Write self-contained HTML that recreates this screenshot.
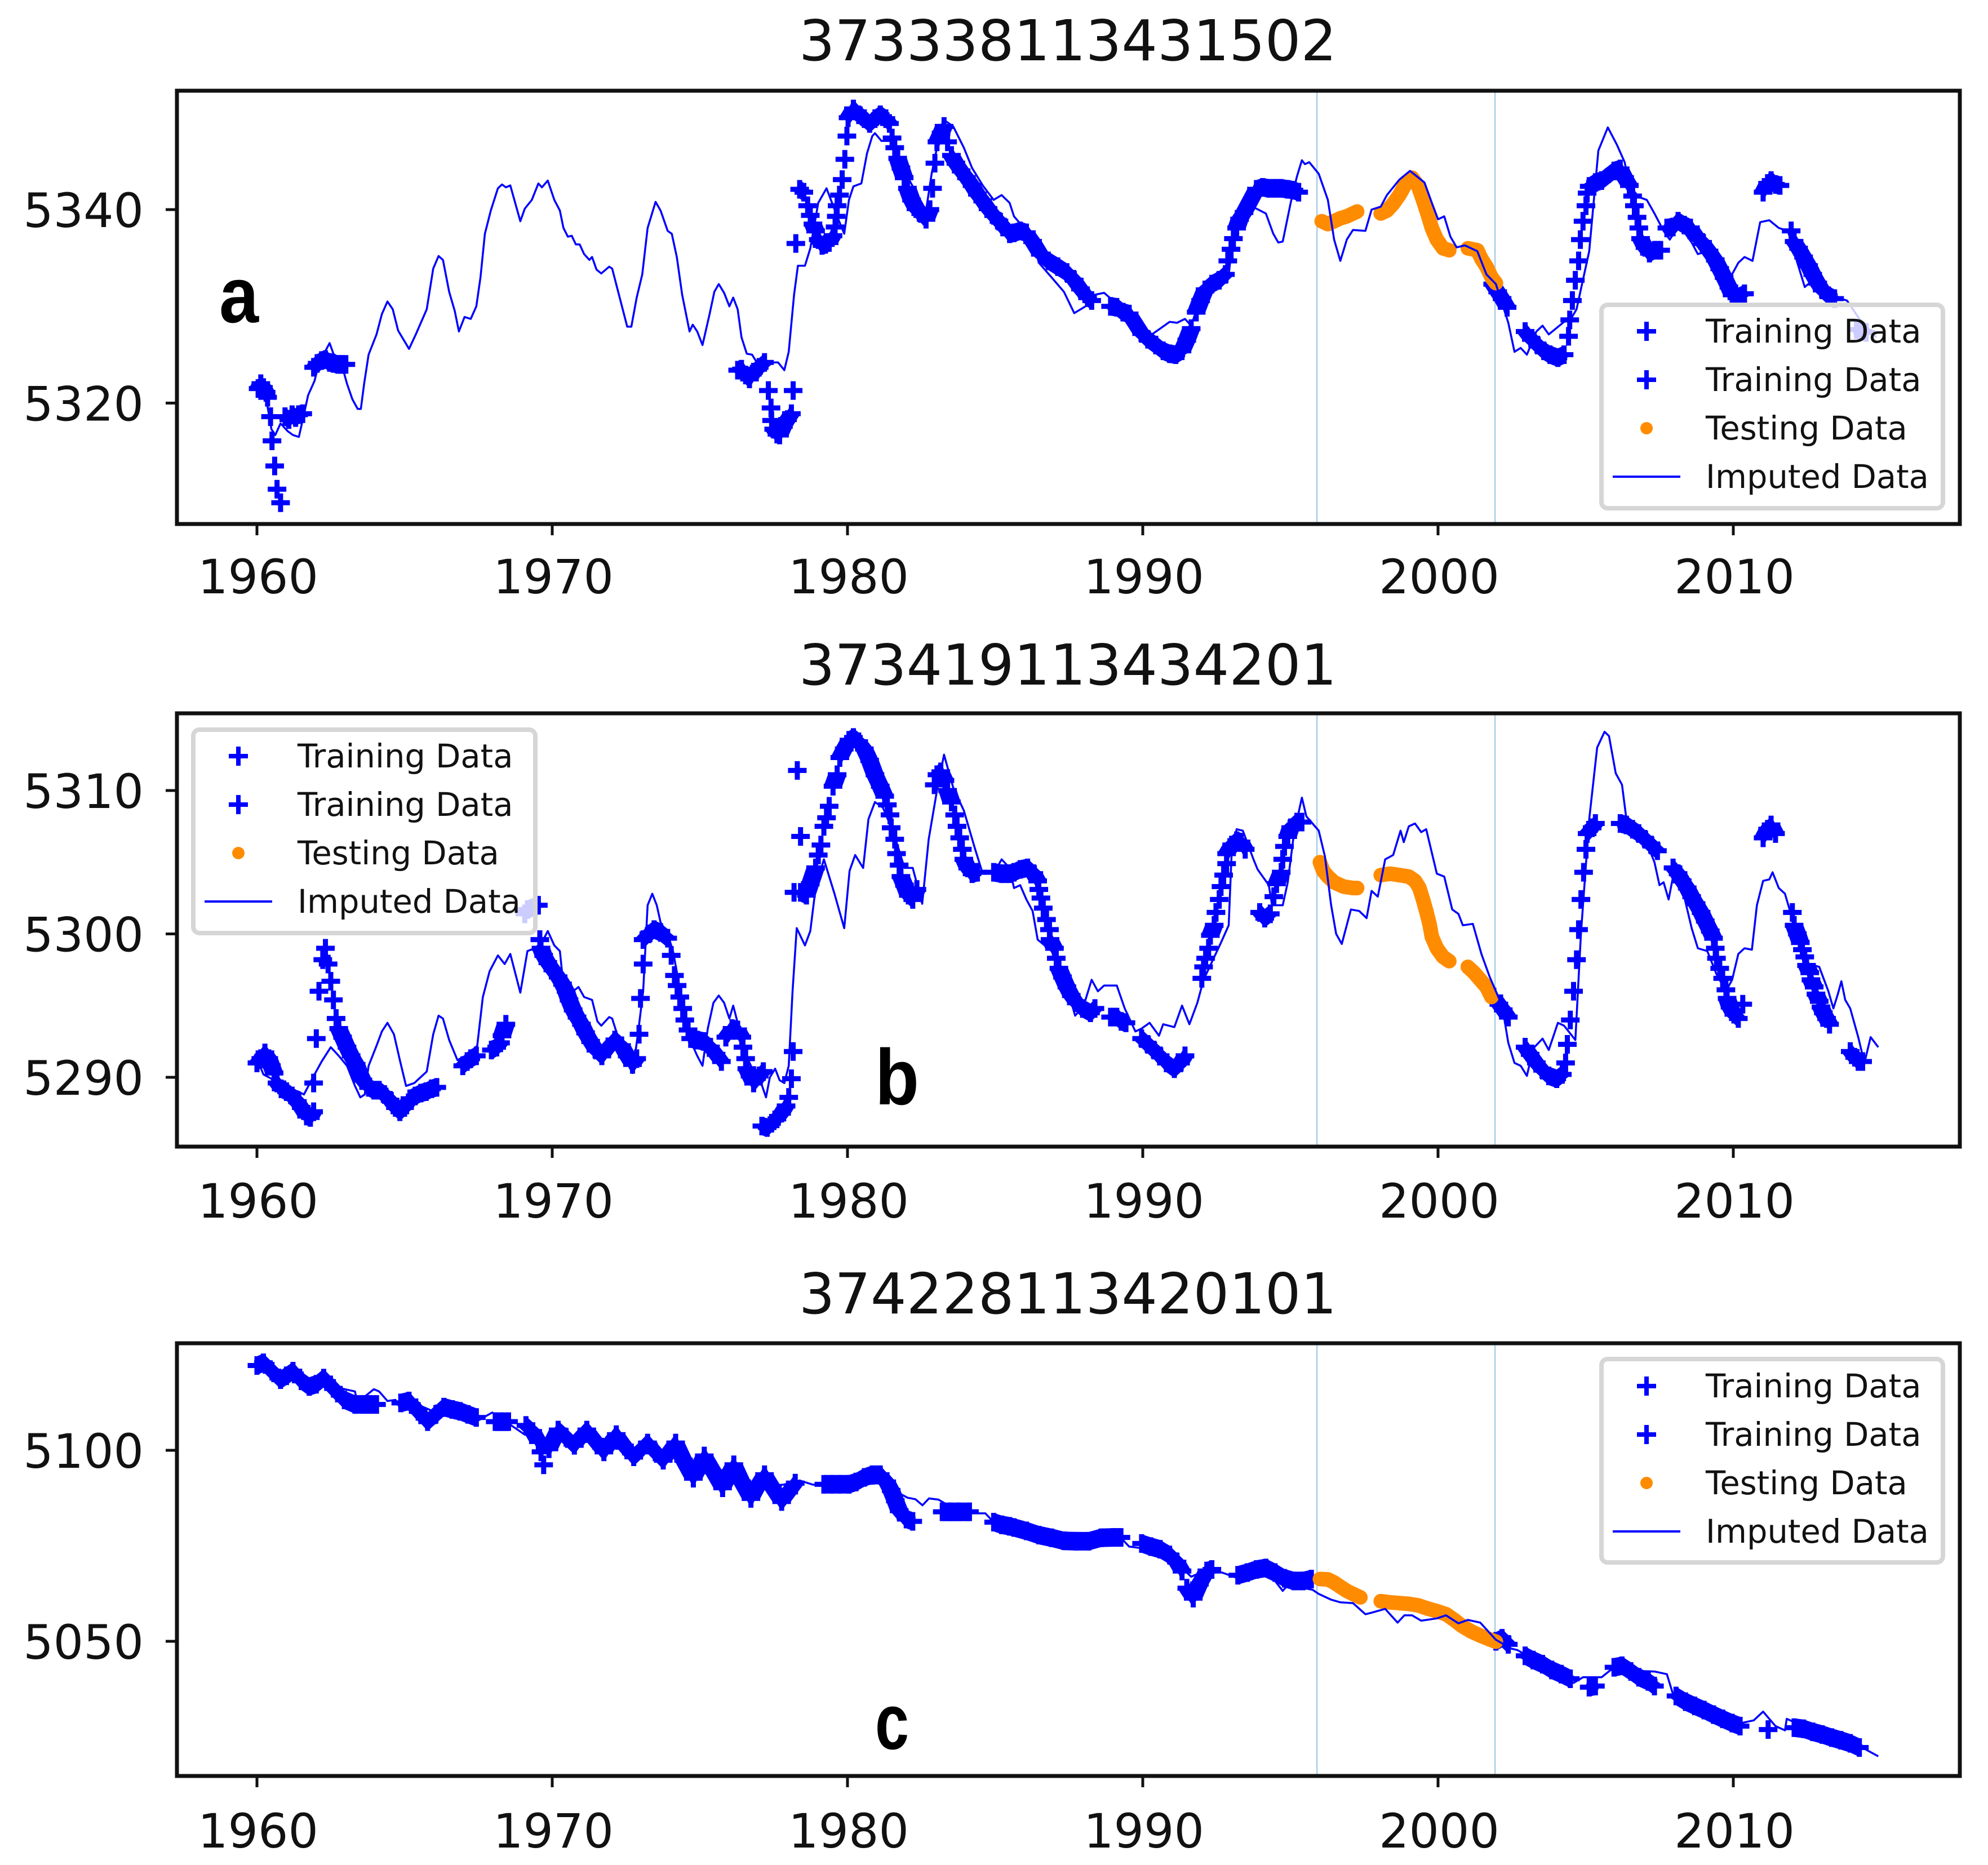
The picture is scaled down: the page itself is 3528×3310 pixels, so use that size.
<!DOCTYPE html>
<html lang="en">
<head>
<meta charset="utf-8">
<title>Groundwater level imputation charts</title>
<style>
html,body{margin:0;padding:0;background:#fff;}
svg{display:block;}
text{font-family:"DejaVu Sans","Liberation Sans",sans-serif;fill:#111;}
.letter{font-family:"Liberation Sans",sans-serif;font-weight:bold;font-size:140px;fill:#000;}
</style>
</head>
<body>
<svg id="chart" xmlns="http://www.w3.org/2000/svg" width="3528" height="3310" viewBox="0 0 3528 3310"></svg>
<script>
const xTickYears = [1960,1970,1980,1990,2000,2010];
const splitYears = [1995.9,2001.93];
const legendLabels = ['Training Data','Training Data','Testing Data','Imputed Data'];

const aTitle = '373338113431502';
const aYTicks = [5320,5340];
const aLineYears = [1960.04,1960.31,1960.49,1960.62,1960.80,1961.04,1961.22,1961.42,1961.59,1961.73,1961.95,1962.10,1962.32,1962.46,1962.59,1962.86,1963.05,1963.23,1963.41,1963.52,1963.63,1963.78,1964.05,1964.23,1964.42,1964.60,1964.78,1965.15,1965.38,1965.75,1965.97,1966.15,1966.30,1966.51,1966.70,1966.84,1967.03,1967.24,1967.43,1967.57,1967.72,1967.92,1968.16,1968.30,1968.43,1968.58,1968.92,1969.07,1969.31,1969.53,1969.65,1969.85,1970.07,1970.26,1970.38,1970.53,1970.66,1970.80,1970.93,1971.08,1971.26,1971.35,1971.50,1971.66,1971.93,1972.03,1972.26,1972.54,1972.68,1972.86,1973.05,1973.23,1973.50,1973.67,1973.91,1974.05,1974.22,1974.40,1974.65,1974.76,1974.91,1975.09,1975.33,1975.49,1975.64,1975.82,1976.00,1976.13,1976.28,1976.41,1976.59,1976.77,1977.01,1977.37,1977.65,1977.86,1978.01,1978.19,1978.32,1978.56,1978.74,1979.01,1979.29,1979.65,1979.89,1980.05,1980.20,1980.47,1980.66,1980.84,1980.93,1981.15,1981.48,1982.03,1982.66,1982.85,1983.03,1983.30,1983.58,1983.94,1984.22,1984.58,1984.95,1985.22,1985.49,1985.64,1986.06,1986.38,1986.48,1986.91,1987.33,1987.68,1988.06,1988.38,1988.69,1989.22,1989.54,1989.75,1990.17,1990.59,1990.91,1991.16,1991.43,1991.64,1991.96,1992.27,1992.91,1993.05,1993.33,1993.47,1993.85,1994.17,1994.42,1994.59,1994.74,1995.01,1995.22,1995.39,1995.49,1995.64,1995.96,1996.27,1996.48,1996.69,1996.91,1997.12,1997.54,1997.75,1998.06,1998.27,1998.69,1999.05,1999.54,1999.79,2000.00,2000.21,2000.42,2000.63,2000.91,2001.33,2001.64,2001.96,2002.17,2002.38,2002.59,2002.80,2003.01,2003.33,2003.54,2003.75,2004.27,2004.48,2004.69,2005.12,2005.43,2005.75,2006.06,2006.32,2006.48,2006.80,2007.07,2007.33,2007.64,2007.85,2008.17,2008.59,2008.80,2009.12,2009.54,2009.85,2010.17,2010.38,2010.65,2010.91,2011.22,2011.54,2011.85,2012.17,2012.42,2012.69,2013.01,2013.54,2013.85,2014.27,2014.84];
const aLineValues = [5322.5,5320.5,5317.3,5316.7,5317.9,5317.1,5316.7,5316.5,5318.8,5320.8,5322.3,5324.1,5325.4,5326.2,5325.1,5324.1,5322.0,5320.4,5319.4,5319.4,5322.0,5325.0,5327.1,5329.2,5330.5,5329.7,5327.5,5325.6,5327.1,5329.7,5333.9,5335.2,5334.8,5331.5,5329.5,5327.4,5328.9,5328.7,5330.0,5333.0,5337.5,5339.9,5342.2,5342.6,5342.3,5342.5,5338.8,5340.1,5341.0,5342.7,5342.3,5343.0,5341.0,5339.9,5338.1,5337.2,5337.3,5336.4,5336.4,5335.4,5334.8,5335.1,5333.8,5333.4,5334.1,5333.9,5331.2,5327.9,5327.9,5330.9,5333.3,5338.1,5340.8,5339.9,5337.8,5337.5,5335.1,5331.2,5327.4,5328.1,5327.4,5326.0,5329.2,5331.5,5332.3,5331.4,5330.0,5330.9,5329.7,5326.8,5325.1,5325.0,5323.8,5324.2,5324.2,5323.4,5325.3,5331.2,5334.2,5334.2,5336.0,5340.7,5342.2,5339.3,5337.5,5341.0,5342.4,5342.7,5345.8,5347.6,5347.9,5347.1,5347.1,5343.4,5339.9,5343.7,5346.4,5349.2,5348.6,5346.4,5344.3,5342.5,5341.0,5341.5,5340.7,5339.3,5337.8,5335.7,5334.5,5333.0,5331.5,5329.3,5330.0,5331.2,5331.4,5330.0,5328.7,5327.2,5326.8,5327.7,5328.4,5328.3,5328.7,5328.0,5330.9,5332.1,5333.3,5336.9,5340.4,5340.6,5340.1,5339.6,5337.5,5336.6,5336.7,5340.7,5343.4,5345.1,5344.7,5344.9,5343.7,5341.0,5336.9,5334.7,5336.9,5337.9,5337.8,5340.0,5340.3,5341.5,5343.1,5344.0,5342.8,5340.7,5339.0,5339.3,5337.2,5336.1,5336.3,5335.7,5333.3,5332.3,5330.3,5328.3,5325.3,5325.7,5325.0,5327.4,5328.0,5327.1,5328.4,5328.6,5329.7,5335.7,5346.1,5348.5,5346.7,5344.9,5342.5,5341.3,5341.0,5339.6,5337.8,5336.9,5338.4,5336.6,5335.4,5335.7,5333.0,5332.7,5334.5,5335.1,5334.7,5338.7,5338.9,5338.1,5337.8,5334.5,5332.0,5332.7,5331.8,5330.9,5330.6,5328.7,5326.8];
const aTrainYears = [1960.04,1960.13,1960.22,1960.31,1960.36,1960.46,1960.51,1960.60,1960.68,1960.80,1960.95,1961.08,1961.19,1961.31,1961.41,1961.55,1961.92,1962.04,1962.19,1962.32,1962.46,1962.59,1962.74,1962.86,1963.01,1976.28,1976.41,1976.55,1976.68,1976.82,1977.01,1977.19,1977.32,1977.41,1977.43,1977.50,1977.61,1977.70,1977.83,1977.97,1978.10,1978.16,1978.25,1978.38,1978.52,1978.65,1978.74,1978.83,1978.92,1979.01,1979.14,1979.25,1979.38,1979.51,1979.58,1979.62,1979.65,1979.73,1979.82,1979.91,1979.98,1980.02,1980.20,1980.38,1980.57,1980.75,1980.93,1981.11,1981.30,1981.42,1981.51,1981.60,1981.70,1981.81,1981.92,1982.03,1982.17,1982.32,1982.48,1982.66,1982.79,1982.88,1982.96,1983.03,1983.17,1983.27,1983.39,1983.52,1983.67,1983.85,1984.03,1984.22,1984.40,1984.58,1984.76,1984.95,1985.13,1985.31,1985.49,1985.64,1985.85,1986.06,1986.27,1986.53,1986.80,1987.12,1987.43,1987.68,1987.89,1988.13,1988.27,1988.91,1989.12,1989.33,1989.54,1989.96,1990.17,1990.44,1990.69,1990.91,1991.12,1991.33,1991.49,1991.64,1991.81,1991.96,1992.11,1992.34,1992.59,1992.80,1992.88,1992.99,1993.07,1993.18,1993.28,1993.43,1993.85,1994.06,1994.27,1994.48,1994.69,1994.91,1995.12,1995.28,2001.85,2002.02,2002.17,2002.34,2002.95,2003.16,2003.37,2003.58,2003.79,2004.06,2004.27,2004.42,2004.46,2004.55,2004.65,2004.76,2004.82,2004.91,2005.01,2005.05,2005.12,2005.33,2005.54,2005.96,2006.17,2006.32,2006.48,2006.59,2006.65,2006.74,2006.80,2006.86,2007.01,2007.16,2007.33,2007.54,2007.75,2007.96,2008.13,2008.34,2008.55,2008.76,2008.96,2009.18,2009.39,2009.54,2009.69,2009.85,2009.96,2010.12,2010.38,2011.01,2011.16,2011.28,2011.43,2011.58,2011.96,2012.06,2012.21,2012.38,2012.55,2012.69,2012.86,2013.01,2013.22,2013.43,2014.17,2014.38,2014.50];
const aTrainValues = [5321.5,5322.0,5321.6,5321.1,5320.6,5318.6,5316.1,5313.5,5311.1,5309.7,5318.6,5318.3,5318.8,5318.5,5318.8,5318.9,5323.7,5324.1,5324.4,5324.5,5324.2,5324.1,5324.0,5324.0,5324.0,5323.4,5323.5,5322.9,5322.5,5323.2,5323.7,5324.2,5321.3,5319.5,5318.2,5317.3,5316.8,5316.7,5317.6,5318.3,5318.9,5321.3,5336.5,5342.1,5341.8,5340.4,5339.4,5338.5,5337.8,5336.9,5336.3,5336.4,5336.6,5337.3,5338.2,5339.3,5340.4,5341.5,5343.1,5345.2,5347.6,5349.5,5350.4,5349.8,5349.4,5348.9,5349.4,5349.8,5349.4,5348.9,5347.4,5346.4,5345.3,5344.3,5343.3,5342.2,5341.0,5340.1,5339.6,5339.0,5340.0,5342.2,5344.8,5347.0,5347.9,5348.6,5347.0,5345.6,5344.8,5344.0,5343.3,5342.5,5341.6,5340.9,5340.1,5339.4,5338.8,5338.2,5337.5,5337.6,5337.8,5337.6,5336.7,5335.4,5334.7,5334.1,5333.5,5332.7,5331.8,5330.9,5330.6,5330.0,5329.9,5329.4,5329.2,5327.2,5326.6,5326.0,5325.4,5325.1,5325.0,5325.4,5326.5,5327.7,5329.4,5330.6,5331.7,5332.3,5332.7,5333.3,5334.7,5335.9,5337.0,5338.1,5339.0,5339.7,5342.1,5342.3,5342.2,5342.2,5342.2,5342.1,5342.0,5341.8,5332.3,5331.5,5330.8,5329.9,5327.4,5326.6,5326.0,5325.4,5325.0,5324.7,5325.0,5326.9,5328.6,5330.6,5332.7,5334.7,5336.9,5338.8,5340.4,5341.7,5342.4,5342.8,5343.0,5344.0,5344.2,5343.3,5342.5,5341.4,5340.4,5339.2,5338.1,5337.0,5336.1,5335.5,5335.8,5335.8,5338.1,5338.2,5338.8,5338.4,5338.1,5337.2,5336.6,5335.7,5334.8,5333.9,5333.0,5332.0,5331.2,5330.9,5331.3,5341.8,5342.7,5343.0,5342.6,5342.5,5337.8,5336.7,5336.0,5335.1,5334.2,5333.3,5332.4,5331.7,5331.1,5330.8,5327.6,5327.4,5327.3];
const aTestYears = [1996.06,1996.27,1996.48,1996.69,1996.91,1997.12,1997.26,1998.06,1998.27,1998.48,1998.69,1998.91,1999.12,1999.33,1999.49,1999.64,1999.79,1999.96,2000.17,2000.38,2001.01,2001.33,2001.47,2001.64,2001.81,2001.96];
const aTestValues = [5338.8,5338.5,5338.8,5339.1,5339.3,5339.6,5339.8,5339.6,5339.9,5340.6,5341.5,5342.7,5343.3,5342.4,5341.0,5339.6,5338.1,5336.9,5336.0,5335.8,5336.0,5335.8,5334.9,5334.1,5333.0,5332.4];

const bTitle = '373419113434201';
const bYTicks = [5290,5300,5310];
const bLineYears = [1960.04,1960.22,1960.49,1960.68,1960.95,1961.41,1961.59,1961.95,1962.19,1962.50,1962.77,1963.05,1963.32,1963.50,1963.65,1963.78,1964.05,1964.23,1964.42,1964.64,1964.84,1965.05,1965.33,1965.75,1965.97,1966.15,1966.30,1966.51,1966.79,1967.15,1967.46,1967.65,1967.88,1968.16,1968.39,1968.58,1968.92,1969.16,1969.40,1969.65,1969.85,1970.07,1970.26,1970.35,1970.71,1970.89,1971.08,1971.35,1971.53,1971.66,1971.93,1972.03,1972.26,1972.54,1972.72,1972.90,1973.08,1973.23,1973.39,1973.54,1973.67,1973.91,1974.09,1974.27,1974.54,1974.76,1974.91,1975.09,1975.27,1975.46,1975.64,1975.82,1976.00,1976.13,1976.28,1976.41,1976.64,1976.82,1977.01,1977.24,1977.37,1977.55,1977.70,1977.86,1978.01,1978.14,1978.28,1978.56,1978.74,1978.92,1979.20,1979.56,1979.89,1980.07,1980.26,1980.53,1980.71,1980.93,1981.20,1981.57,1981.93,1982.21,1982.53,1982.75,1983.03,1983.27,1983.58,1983.94,1984.31,1984.58,1984.95,1985.22,1985.49,1985.64,1985.85,1986.06,1986.27,1986.44,1986.91,1987.33,1987.71,1988.00,1988.27,1988.48,1988.69,1989.12,1989.39,1989.75,1989.96,1990.23,1990.55,1990.69,1991.07,1991.33,1991.58,1991.85,1992.06,1992.65,1992.91,1993.01,1993.18,1993.39,1993.75,1993.89,1994.27,1994.38,1994.74,1994.91,1995.12,1995.39,1995.54,1995.96,1996.17,1996.38,1996.55,1996.74,1997.05,1997.33,1997.58,1997.75,1997.96,1998.21,1998.48,1998.73,1998.84,1999.01,1999.22,1999.43,1999.60,1999.96,2000.21,2000.48,2000.69,2000.84,2001.18,2001.47,2001.75,2001.96,2002.17,2002.38,2002.59,2002.80,2003.01,2003.22,2003.54,2003.75,2004.06,2004.27,2004.65,2004.84,2005.12,2005.39,2005.64,2005.79,2006.02,2006.23,2006.38,2006.90,2007.33,2007.50,2007.64,2007.81,2007.96,2008.27,2008.59,2008.80,2009.12,2009.43,2009.75,2009.96,2010.17,2010.38,2010.63,2010.80,2011.01,2011.22,2011.33,2011.54,2011.75,2011.92,2012.38,2012.91,2013.22,2013.39,2013.54,2013.66,2013.79,2013.96,2014.23,2014.44,2014.65,2014.91];
const bLineValues = [5291.1,5290.2,5289.9,5289.2,5289.3,5289.0,5288.8,5290.2,5291.1,5292.1,5291.5,5290.8,5289.4,5288.6,5288.8,5290.8,5292.2,5293.2,5293.8,5293.0,5291.2,5289.4,5289.6,5290.4,5293.0,5294.3,5294.1,5292.6,5291.2,5291.6,5292.2,5295.6,5297.4,5298.5,5297.9,5298.6,5295.9,5298.8,5299.0,5299.4,5300.2,5299.2,5298.8,5297.0,5296.0,5296.3,5295.6,5295.4,5293.9,5293.6,5294.2,5294.1,5292.6,5291.0,5290.3,5293.0,5296.0,5302.0,5302.8,5302.0,5300.8,5300.0,5298.8,5296.8,5293.4,5292.2,5291.5,5290.8,5293.4,5295.2,5295.7,5295.2,5294.1,5295.0,5293.8,5292.2,5291.2,5290.4,5290.0,5288.6,5290.0,5290.6,5289.8,5289.6,5290.8,5296.0,5300.4,5299.2,5300.2,5303.2,5305.2,5302.8,5300.4,5304.4,5305.5,5304.6,5308.0,5309.2,5308.8,5307.0,5304.6,5304.6,5302.1,5306.6,5310.0,5312.5,5310.2,5308.6,5306.0,5304.2,5304.2,5305.2,5304.6,5303.2,5303.4,5302.4,5301.6,5299.6,5298.8,5297.0,5294.3,5295.0,5296.8,5296.0,5296.4,5296.4,5294.8,5293.2,5293.4,5293.8,5292.9,5293.7,5293.5,5295.0,5293.7,5295.2,5296.8,5299.4,5300.6,5305.6,5307.3,5307.2,5305.2,5304.5,5303.4,5302.0,5302.0,5303.6,5307.0,5309.5,5308.2,5307.2,5305.4,5302.0,5300.0,5299.3,5301.7,5301.6,5301.1,5303.0,5302.6,5305.2,5305.5,5307.2,5306.4,5307.5,5307.7,5307.1,5307.3,5304.2,5304.0,5301.7,5301.4,5300.6,5300.7,5298.6,5297.0,5296.0,5295.0,5292.4,5291.0,5290.8,5290.1,5292.0,5292.7,5291.9,5293.8,5293.6,5292.6,5300.0,5308.0,5313.0,5314.1,5313.8,5311.2,5310.4,5308.0,5307.2,5305.0,5303.4,5303.6,5302.4,5304.0,5303.2,5300.4,5299.0,5298.8,5297.2,5296.0,5296.8,5298.6,5299.0,5298.9,5302.0,5303.7,5303.8,5304.3,5303.2,5302.8,5301.6,5298.0,5297.7,5296.0,5294.8,5295.8,5296.7,5295.4,5294.8,5292.8,5291.0,5292.8,5292.1];
const bTrainYears = [1960.00,1960.13,1960.27,1960.40,1960.49,1960.58,1960.68,1960.82,1961.00,1961.19,1961.37,1961.50,1961.68,1961.81,1961.92,1961.92,1962.01,1962.10,1962.23,1962.32,1962.41,1962.50,1962.59,1962.68,1962.77,1962.90,1963.05,1963.19,1963.36,1963.45,1963.59,1963.78,1963.96,1964.14,1964.32,1964.51,1964.69,1964.84,1965.00,1965.18,1965.36,1965.55,1965.73,1965.91,1966.09,1966.97,1967.12,1967.24,1967.43,1967.94,1968.12,1968.25,1968.30,1968.43,1969.07,1969.16,1969.53,1969.58,1969.62,1969.71,1969.85,1970.02,1970.20,1970.35,1970.47,1970.57,1970.71,1970.84,1970.99,1971.13,1971.30,1971.48,1971.68,1971.90,1972.12,1972.35,1972.54,1972.72,1972.86,1972.94,1972.99,1973.08,1973.08,1973.27,1973.45,1973.67,1973.91,1974.03,1974.14,1974.23,1974.32,1974.42,1974.49,1974.60,1974.69,1974.91,1975.13,1975.36,1975.55,1975.73,1975.88,1976.09,1976.28,1976.42,1976.46,1976.55,1976.59,1976.70,1976.82,1977.01,1977.15,1977.10,1977.28,1977.43,1977.61,1977.77,1977.92,1978.01,1978.10,1978.16,1978.19,1978.41,1978.30,1978.41,1978.61,1978.74,1978.92,1979.01,1979.10,1979.20,1979.29,1979.38,1979.51,1979.65,1979.74,1979.89,1980.05,1980.20,1980.38,1980.57,1980.75,1980.93,1981.11,1981.26,1981.35,1981.44,1981.48,1981.60,1981.66,1981.75,1981.81,1981.93,1982.06,1982.21,1982.35,1982.94,1983.03,1983.16,1983.30,1983.39,1983.52,1983.63,1983.71,1983.80,1983.89,1983.94,1984.07,1984.22,1984.40,1984.95,1985.22,1985.49,1985.64,1985.85,1986.10,1986.31,1986.44,1986.48,1986.55,1986.63,1986.74,1986.84,1986.86,1987.01,1987.07,1987.16,1987.28,1987.43,1987.58,1987.75,1987.96,1988.23,1988.38,1988.91,1989.12,1989.27,1989.43,1989.96,1990.17,1990.38,1990.59,1990.80,1991.07,1991.28,1991.43,1992.00,1992.06,1992.13,1992.23,1992.29,1992.42,1992.48,1992.59,1992.65,1992.74,1992.84,1992.84,1993.01,1993.18,1993.33,1993.47,1993.96,1994.13,1994.32,1994.44,1994.53,1994.69,1994.74,1994.80,1994.91,1995.01,1995.22,1995.39,2001.89,2002.06,2002.21,2002.38,2002.95,2003.12,2003.33,2003.54,2003.75,2004.02,2004.21,2004.32,2004.38,2004.48,2004.59,2004.69,2004.76,2004.84,2004.93,2005.01,2005.05,2005.22,2005.33,2006.17,2006.38,2006.59,2006.80,2007.01,2007.22,2007.43,2007.96,2008.13,2008.27,2008.44,2008.59,2008.74,2008.91,2009.05,2009.22,2009.33,2009.39,2009.43,2009.54,2009.64,2009.75,2009.79,2009.89,2010.02,2010.17,2010.32,2011.01,2011.16,2011.28,2011.43,2012.00,2012.06,2012.17,2012.27,2012.34,2012.42,2012.48,2012.59,2012.63,2012.74,2012.80,2012.91,2012.97,2013.05,2013.16,2013.26,2013.96,2014.11,2014.23,2014.38];
const bTrainValues = [5291.0,5291.3,5291.7,5291.3,5290.8,5290.3,5289.6,5289.2,5289.0,5288.7,5288.3,5287.9,5287.3,5287.2,5287.6,5289.6,5292.7,5296.0,5298.2,5299.0,5297.9,5296.7,5295.4,5294.1,5293.4,5292.8,5292.1,5291.5,5290.9,5290.4,5289.8,5289.3,5289.1,5289.1,5288.8,5288.4,5287.9,5287.6,5287.9,5288.5,5288.7,5288.9,5289.0,5289.2,5289.3,5290.8,5291.1,5291.3,5291.5,5291.9,5292.1,5292.4,5292.9,5293.7,5301.4,5301.7,5302.0,5299.6,5299.0,5298.5,5298.0,5297.5,5297.0,5296.5,5296.0,5295.4,5294.7,5294.2,5293.7,5293.1,5292.5,5291.9,5291.5,5292.1,5292.6,5292.2,5291.5,5290.9,5291.3,5293.0,5295.5,5297.9,5299.6,5300.0,5300.3,5300.1,5299.7,5298.5,5297.1,5296.4,5295.6,5294.8,5294.0,5293.3,5292.7,5292.6,5292.5,5292.1,5291.6,5291.1,5292.8,5293.4,5293.3,5292.8,5292.1,5291.3,5290.6,5290.1,5289.6,5290.1,5290.4,5286.6,5286.5,5286.8,5287.1,5287.5,5288.0,5288.6,5289.9,5291.8,5302.9,5306.8,5311.4,5302.9,5302.7,5303.5,5304.6,5305.5,5306.2,5307.5,5308.1,5308.9,5310.3,5311.1,5312.3,5312.9,5313.5,5313.7,5313.4,5312.9,5312.1,5311.1,5310.3,5309.6,5309.0,5308.3,5307.4,5306.6,5305.6,5304.8,5304.0,5303.4,5302.7,5302.4,5303.1,5310.4,5311.1,5311.3,5310.7,5310.0,5309.2,5308.3,5307.5,5306.7,5305.9,5305.2,5304.6,5304.2,5304.3,5304.3,5304.2,5304.2,5304.3,5304.5,5304.6,5304.2,5303.7,5303.1,5302.5,5301.8,5301.0,5300.3,5299.6,5299.0,5298.3,5297.6,5297.0,5296.3,5295.7,5295.2,5294.8,5294.5,5294.8,5294.2,5294.2,5293.9,5293.8,5292.7,5292.3,5291.9,5291.5,5291.0,5290.6,5291.0,5291.5,5296.9,5297.7,5298.3,5299.0,5299.9,5300.6,5301.5,5302.4,5303.3,5304.1,5304.9,5305.6,5306.2,5306.5,5306.4,5305.9,5301.5,5301.1,5301.4,5302.6,5303.5,5304.3,5305.2,5306.1,5306.8,5307.4,5307.8,5307.8,5295.6,5295.1,5294.7,5294.2,5292.1,5291.6,5291.0,5290.5,5290.1,5289.9,5290.2,5291.0,5292.3,5294.0,5296.0,5298.2,5300.3,5302.4,5304.3,5305.9,5307.0,5307.4,5307.7,5307.7,5307.6,5307.3,5307.0,5306.6,5306.2,5305.8,5304.6,5304.2,5303.7,5303.2,5302.6,5302.1,5301.5,5300.9,5300.2,5299.7,5299.0,5298.3,5297.6,5296.9,5296.1,5295.5,5294.9,5294.4,5294.1,5295.1,5306.7,5307.3,5307.6,5307.0,5301.5,5300.6,5300.0,5299.4,5298.9,5298.4,5297.8,5297.3,5296.8,5296.3,5295.8,5295.3,5294.9,5294.5,5294.1,5293.7,5291.8,5291.4,5291.1,5291.1];
const bTestYears = [1996.00,1996.11,1996.27,1996.48,1996.80,1997.12,1997.26,1998.06,1998.38,1998.69,1999.01,1999.22,1999.37,1999.49,1999.60,1999.71,1999.79,1999.96,2000.17,2000.38,2001.01,2001.22,2001.43,2001.64,2001.81];
const bTestValues = [5305.0,5304.4,5304.0,5303.6,5303.3,5303.2,5303.2,5304.1,5304.2,5304.1,5304.0,5303.7,5303.2,5302.4,5301.6,5300.7,5299.8,5299.0,5298.4,5298.1,5297.7,5297.3,5296.8,5296.3,5295.6];

const cTitle = '374228113420101';
const cYTicks = [5050,5100];
const cLineYears = [1960.04,1960.49,1961.22,1961.86,1962.32,1962.86,1963.32,1963.41,1963.69,1963.96,1964.14,1964.42,1964.69,1964.91,1965.15,1965.97,1966.51,1967.52,1967.97,1968.43,1969.07,1969.65,1970.16,1971.17,1972.17,1973.27,1974.18,1975.09,1976.00,1977.10,1977.83,1978.38,1978.83,1980.38,1981.11,1981.57,1982.03,1982.30,1982.54,1982.76,1983.08,1983.39,1984.40,1984.67,1984.95,1985.64,1986.91,1988.17,1989.26,1989.54,1989.96,1990.91,1991.33,1991.64,1991.96,1992.69,1993.33,1994.06,1994.48,1994.74,1994.91,1995.75,1995.96,1996.38,1996.69,1997.12,1997.54,1997.75,1998.21,1998.63,1998.86,1999.12,1999.43,1999.96,2000.27,2000.69,2001.01,2001.43,2001.96,2002.48,2002.69,2003.54,2004.59,2004.91,2005.54,2005.85,2007.33,2007.75,2007.96,2010.27,2010.69,2011.01,2011.43,2011.75,2011.81,2012.38,2014.27,2014.91];
const cLineValues = [5121.8,5119.5,5118.8,5115.8,5117.7,5116.2,5115.4,5112.0,5114.3,5116.0,5115.4,5112.9,5113.2,5110.2,5112.9,5110.2,5112.0,5107.9,5109.9,5107.5,5104.1,5103.0,5102.6,5102.3,5100.4,5100.0,5098.5,5095.1,5091.4,5090.6,5091.0,5092.1,5091.0,5091.0,5091.4,5089.5,5087.6,5087.2,5085.6,5087.4,5087.1,5085.7,5083.5,5083.5,5081.2,5079.7,5077.4,5075.9,5077.1,5074.8,5074.4,5072.2,5069.2,5066.9,5068.0,5068.0,5066.2,5067.3,5065.8,5063.2,5064.7,5063.5,5062.4,5060.9,5060.2,5060.0,5057.1,5057.5,5058.5,5054.9,5056.8,5056.8,5055.4,5056.0,5056.8,5054.7,5055.6,5054.9,5050.4,5048.1,5047.7,5044.0,5039.1,5040.6,5040.6,5042.5,5042.1,5041.4,5036.1,5028.6,5029.3,5031.6,5027.8,5026.7,5029.7,5027.8,5022.6,5019.9];
const cTrainYears = [1960.00,1960.22,1960.51,1960.80,1961.00,1961.22,1961.50,1961.77,1962.01,1962.26,1962.59,1962.96,1963.32,1963.59,1963.81,1964.05,1964.87,1965.15,1965.46,1965.78,1966.06,1966.33,1966.61,1966.88,1967.15,1967.43,1968.07,1968.30,1968.52,1969.11,1969.34,1969.53,1969.62,1969.71,1969.89,1970.20,1970.47,1970.75,1970.95,1971.17,1971.44,1971.75,1971.95,1972.17,1972.45,1972.76,1972.99,1973.23,1973.49,1973.76,1973.96,1974.18,1974.45,1974.78,1974.96,1975.15,1975.46,1975.77,1975.95,1976.15,1976.42,1976.73,1976.95,1977.19,1977.46,1977.77,1978.01,1978.23,1979.20,1979.47,1979.74,1980.05,1980.29,1980.57,1980.84,1981.11,1981.33,1981.48,1981.62,1981.75,1981.99,1982.21,1983.21,1983.49,1983.76,1984.13,1984.95,1985.22,1985.49,1985.64,1986.06,1986.48,1986.91,1987.33,1987.75,1988.17,1988.59,1989.01,1989.26,1989.96,1990.27,1990.59,1990.91,1991.16,1991.33,1991.49,1991.71,1991.92,1992.17,1992.34,1993.22,1993.54,1993.85,1994.17,1994.48,1994.80,1995.12,1995.43,1995.71,2001.96,2002.17,2002.38,2002.95,2003.22,2003.54,2003.85,2004.17,2004.48,2005.12,2005.33,2005.96,2006.23,2006.53,2006.80,2007.12,2007.33,2008.06,2008.38,2008.69,2009.01,2009.33,2009.64,2009.96,2010.23,2011.18,2012.06,2012.38,2012.69,2013.01,2013.33,2013.64,2013.96,2014.27];
const cTrainValues = [5122.2,5122.9,5120.7,5118.5,5119.5,5120.7,5118.2,5116.7,5117.3,5118.9,5116.2,5113.2,5112.0,5112.0,5112.0,5112.0,5112.4,5112.9,5110.2,5107.5,5109.4,5111.3,5110.7,5110.2,5109.4,5108.6,5107.5,5107.5,5107.5,5106.5,5104.9,5102.3,5099.6,5096.2,5100.4,5105.3,5103.4,5101.3,5103.4,5105.3,5102.6,5099.6,5101.9,5104.1,5101.1,5098.3,5100.0,5101.9,5099.6,5097.4,5099.6,5101.9,5097.4,5092.7,5095.5,5098.5,5094.4,5090.2,5093.2,5096.2,5091.7,5087.4,5090.6,5093.6,5090.2,5086.6,5089.1,5091.4,5091.1,5091.1,5091.1,5091.1,5091.7,5092.9,5093.6,5093.6,5091.7,5089.5,5086.8,5084.2,5082.0,5081.4,5083.9,5083.9,5083.9,5083.9,5081.2,5080.5,5080.1,5079.8,5078.9,5077.8,5077.1,5076.3,5076.2,5076.2,5077.1,5077.2,5077.2,5075.6,5074.8,5074.1,5072.6,5070.7,5068.4,5063.9,5061.3,5065.0,5068.4,5068.8,5067.3,5068.0,5068.8,5069.2,5068.0,5066.5,5065.8,5065.8,5066.3,5050.0,5050.8,5049.2,5046.2,5045.1,5044.0,5042.5,5041.4,5040.2,5038.0,5038.3,5043.2,5043.6,5042.1,5040.6,5039.5,5038.3,5035.7,5034.2,5033.1,5032.0,5030.8,5029.7,5028.6,5027.8,5026.9,5027.4,5027.1,5026.3,5025.6,5024.8,5024.1,5023.3,5022.2];
const cTestYears = [1996.00,1996.27,1996.48,1996.69,1996.91,1997.12,1997.37,1998.06,1998.38,1998.69,1999.01,1999.33,1999.64,1999.96,2000.27,2000.55,2000.80,2001.12,2001.43,2001.75,2001.96];
const cTestValues = [5066.3,5066.2,5065.4,5064.3,5063.2,5062.4,5061.5,5060.5,5060.2,5060.0,5059.8,5059.4,5058.6,5057.9,5057.1,5055.6,5054.1,5052.6,5051.5,5050.5,5049.9];

const svg = document.getElementById('chart');
const NS = 'http://www.w3.org/2000/svg';
const AX_LEFT = 314, AX_RIGHT = 3478;
const BLUE = '#0000ff', ORANGE = '#ff8c00';
const MAX_GAP_YEARS = 0.45, MAX_SWEEP_SLOPE = 3, ARM = 16.5;

function xScale(year){ return 456 + (year - 1960) * 52.4; }

function make(tag, attrs, parent){
  const el = document.createElementNS(NS, tag);
  for (const k in attrs) el.setAttribute(k, attrs[k]);
  (parent || svg).appendChild(el);
  return el;
}

function plusPath(cx, cy, arm){
  return 'M' + (cx - arm) + ' ' + cy + 'H' + (cx + arm) + 'M' + cx + ' ' + (cy - arm) + 'V' + (cy + arm);
}

function poly(pts){
  return 'M' + pts.map(function(p){ return p[0].toFixed(1) + ' ' + p[1].toFixed(1); }).join('L') + 'Z';
}

function sweepPath(years, values, yScale){
  let d = '';
  for (let i = 1; i < years.length; i++) {
    if (years[i] - years[i - 1] > MAX_GAP_YEARS || years[i] <= years[i - 1]) continue;
    const x1 = xScale(years[i - 1]), x2 = xScale(years[i]);
    const y1 = yScale(values[i - 1]), y2 = yScale(values[i]);
    if (Math.abs(y2 - y1) > MAX_SWEEP_SLOPE * Math.abs(x2 - x1)) continue;
    d += poly([[x1, y1 - ARM], [x2, y2 - ARM], [x2, y2 + ARM], [x1, y1 + ARM]]);
    const tx = y2 >= y1 ? x1 : x2, ty = y2 >= y1 ? y1 : y2;
    const bx = y2 >= y1 ? x2 : x1, by = y2 >= y1 ? y2 : y1;
    d += poly([[tx - ARM, ty], [tx + ARM, ty], [bx + ARM, by], [bx - ARM, by]]);
  }
  return d;
}

function drawLegend(box, parent){
  const g = make('g', {}, parent);
  
  
  const frame = make('rect', {x: box.x, y: box.y, width: box.w, height: box.h, rx: 11, fill: 'rgba(255,255,255,0.8)', stroke: '#d6d6d6', 'stroke-width': 8}, g);
  
  
  legendLabels.forEach(function(label, i){
    const ey = box.rowY[i];
    const mx = box.x + 80;
    let handle;
    if (i < 2) {
      handle = make('path', {d: plusPath(mx, ey, 17), stroke: BLUE, 'stroke-width': 8, fill: 'none'}, g);
    } else if (i === 2) {
      handle = make('circle', {cx: mx, cy: ey, r: 11, fill: ORANGE}, g);
    } else {
      handle = make('line', {x1: mx - 60, x2: mx + 60, y1: ey, y2: ey, stroke: BLUE, 'stroke-width': 4}, g);
    }
    
    
    const t = make('text', {x: box.x + 185, y: ey + 20, 'font-size': 57.5}, g);
    t.textContent = label;
    
    
  });
}

function drawPanel(p){
  const g = make('g', {});
  
  
  const yScale = function(v){ return p.y0 - (v - p.v0) * p.pxPerUnit; };

  const title = make('text', {x: 1895, y: p.titleY, 'text-anchor': 'middle', 'font-size': 100}, g);
  title.textContent = p.title;
  
  

  splitYears.forEach(function(yr){
    const v = make('line', {x1: xScale(yr), x2: xScale(yr), y1: p.top, y2: p.bottom, stroke: '#a9cde8', 'stroke-width': 2.5}, g);
    
    
  });

  const band = make('path', {d: sweepPath(p.trainYears, p.trainValues, yScale), fill: BLUE, 'fill-rule': 'nonzero'}, g);
  
  

  p.trainYears.forEach(function(yr, i){
    const m = make('path', {d: plusPath(xScale(yr), yScale(p.trainValues[i]), ARM), stroke: BLUE, 'stroke-width': 9, fill: 'none'}, g);
    
    
  });

  p.testYears.forEach(function(yr, i){
    const c = make('circle', {cx: xScale(yr), cy: yScale(p.testValues[i]), r: 13, fill: ORANGE}, g);
    
    
    if (i > 0 && yr - p.testYears[i - 1] <= MAX_GAP_YEARS) {
      const seg = make('line', {x1: xScale(p.testYears[i - 1]), y1: yScale(p.testValues[i - 1]), x2: xScale(yr), y2: yScale(p.testValues[i]), stroke: ORANGE, 'stroke-width': 26}, g);
      
      
    }
  });

  const pts = p.lineYears.map(function(yr, i){ return xScale(yr).toFixed(1) + ',' + yScale(p.lineValues[i]).toFixed(1); }).join(' ');
  const line = make('polyline', {points: pts, fill: 'none', stroke: BLUE, 'stroke-width': 3.5, 'stroke-linejoin': 'round'}, g);
  
  

  const spine = make('rect', {x: AX_LEFT, y: p.top, width: AX_RIGHT - AX_LEFT, height: p.bottom - p.top, fill: 'none', stroke: '#111', 'stroke-width': 7}, g);
  
  

  xTickYears.forEach(function(yr){
    const tk = make('line', {x1: xScale(yr), x2: xScale(yr), y1: p.bottom, y2: p.bottom + 20, stroke: '#111', 'stroke-width': 5}, g);
    
    
    const lb = make('text', {x: xScale(yr) + 2, y: p.xLabelY, 'text-anchor': 'middle', 'font-size': 84}, g);
    lb.textContent = String(yr);
    
    
  });

  p.yTicks.forEach(function(v){
    const tk = make('line', {x1: AX_LEFT - 20, x2: AX_LEFT, y1: yScale(v), y2: yScale(v), stroke: '#111', 'stroke-width': 5}, g);
    
    
    const lb = make('text', {x: 255, y: yScale(v) + 31, 'text-anchor': 'end', 'font-size': 84}, g);
    lb.textContent = String(v);
    
    
  });

  drawLegend(p.legend, g);

  const letter = make('text', {x: p.letter.x, y: p.letter.y, 'class': 'letter', textLength: p.letter.w, lengthAdjust: 'spacingAndGlyphs'}, g);
  letter.textContent = p.letter.t;
  
  
}

drawPanel({name: 'panel-a', title: aTitle, titleY: 107, top: 161, bottom: 930, xLabelY: 1053, y0: 372, v0: 5340, pxPerUnit: 17.17,
  yTicks: aYTicks, lineYears: aLineYears, lineValues: aLineValues, trainYears: aTrainYears, trainValues: aTrainValues, testYears: aTestYears, testValues: aTestValues,
  legend: {x: 2842, y: 541, w: 606, h: 361, rowY: [588,674,760,846]}, letter: {t: 'a', x: 389, y: 572, w: 70}});
drawPanel({name: 'panel-b', title: bTitle, titleY: 1215, top: 1266, bottom: 2035, xLabelY: 2161, y0: 1403, v0: 5310, pxPerUnit: 25.45,
  yTicks: bYTicks, lineYears: bLineYears, lineValues: bLineValues, trainYears: bTrainYears, trainValues: bTrainValues, testYears: bTestYears, testValues: bTestValues,
  legend: {x: 343, y: 1295, w: 607, h: 361, rowY: [1342,1428,1514,1600]}, letter: {t: 'b', x: 1553, y: 1960, w: 78}});
drawPanel({name: 'panel-c', title: cTitle, titleY: 2331, top: 2384, bottom: 3152, xLabelY: 3279, y0: 2574, v0: 5100, pxPerUnit: 6.78,
  yTicks: cYTicks, lineYears: cLineYears, lineValues: cLineValues, trainYears: cTrainYears, trainValues: cTrainValues, testYears: cTestYears, testValues: cTestValues,
  legend: {x: 2842, y: 2412, w: 606, h: 361, rowY: [2460,2546,2632,2718]}, letter: {t: 'c', x: 1553, y: 3104, w: 60}});
</script>
</body>
</html>
